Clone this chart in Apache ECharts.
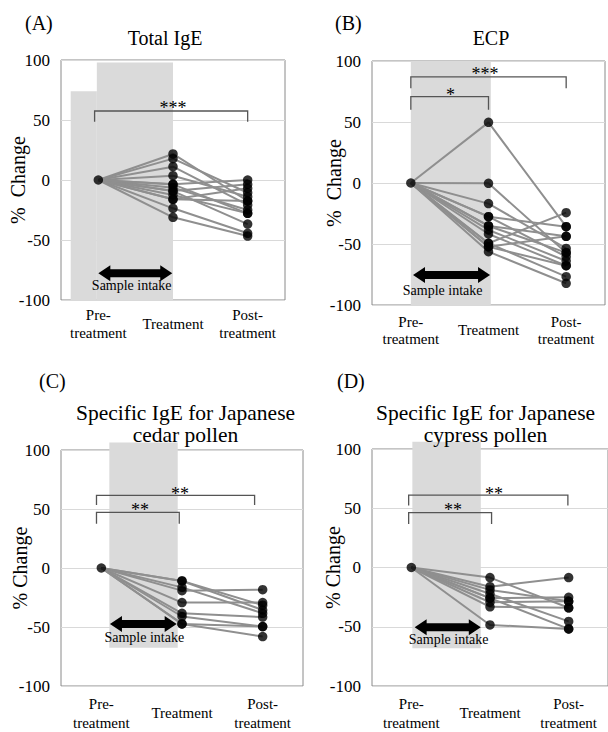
<!DOCTYPE html>
<html><head><meta charset="utf-8">
<script src="https://cdn.jsdelivr.net/npm/echarts@6/dist/echarts.min.js"></script>
<style>html,body{margin:0;padding:0;background:#fff}#c{width:608px;height:732px}</style>
</head><body><div id="c"></div>
<script>
// ---------- data ----------
const categories = ['Pre-\ntreatment', 'Treatment', 'Post-\ntreatment'];
const yTicks = [-100, -50, 0, 50, 100];
const preValue = 0;

// (A) Total IgE, % change per subject
const totalIgETreatment = [21.7, 17.8, 11.1, 3.6, -3.6, -6.4, -9.2, -12.5, -16.1, -23.6, -31.1, -9.2, -16.1, -3.6];
const totalIgEPost      = [-17.5, -10.6, -20.8, -13.9, 0, -25, -3.6, -27.8, -6.9, -44.4, -46.7, -36.7, -17.5, -27.8];

// (B) ECP
const ecpTreatment = [49.7, -0.3, -16.9, -27.6, -35.2, -38.5, -41.8, -49.4, -52.2, -56.3, -49.4, -52.2, -35.2, -27.6];
const ecpPost      = [-35.8, -57.1, -53.6, -60.4, -43.7, -63.9, -67.8, -24.3, -43.7, -82.2, -76.8, -67.8, -57.1, -35.8];

// (C) Specific IgE, Japanese cedar pollen
const cedarTreatment = [-11, -11, -16.4, -19.2, -29.3, -38.4, -41.1, -47.4, -47.4];
const cedarPost      = [-31.5, -35.6, -38.4, -18.4, -29.3, -41.6, -49.6, -58.1, -49.6];

// (D) Specific IgE, Japanese cypress pollen
const cypressTreatment = [-8.5, -16.2, -18.9, -22.2, -25.8, -29.3, -33.2, -48.5, -25.8];
const cypressPost      = [-34, -8.5, -28.5, -45.5, -25.2, -28.5, -34, -51.8, -51.8];

// significance labels
const sigA = ['***'];
const sigB = ['***', '*'];
const sigC = ['**', '**'];
const sigD = ['**', '**'];
const intakeLabel = 'Sample intake';
const titles = [['Total IgE'], ['ECP'], ['Specific IgE for Japanese', 'cedar pollen'], ['Specific IgE for Japanese', 'cypress pollen']];
const panelLabels = ['(A)', '(B)', '(C)', '(D)'];

// ---------- layout / annotations ----------
const FONT = '"Liberation Serif", "Times New Roman", serif';
const panels = [
  { treat: totalIgETreatment, post: totalIgEPost, sig: sigA,
    grid: {left: 61, top: 60, width: 224, height: 240}, yName: '%  Change', yNameGap: 33, xMargin: 24, xLH: 18,
    labelPos: [25, 24], titlePos: [165, 38], titleSize: 20,
    bands: [[-0.37, -0.02, 74, -100], [-0.02, 1.0, 98, -100]],
    arrow: [0.0, 0.99, -77.8, 0.447, -88.3],
    brackets: [[-0.05, 2.0, 57.5, 48.6, 1.0, 60]] },
  { treat: ecpTreatment, post: ecpPost, sig: sigB,
    grid: {left: 372, top: 61, width: 233, height: 244}, yName: '%  Change', yNameGap: 28, xMargin: 25, xLH: 17,
    labelPos: [335, 24], titlePos: [491, 38], titleSize: 20,
    bands: [[0.0, 1.03, 100, -100]],
    arrow: [0.028, 1.02, -75.4, 0.41, -88.5],
    brackets: [[0.0, 2.0, 87, 77.6, 0.955, 89], [0.0, 1.0, 70.8, 60, 0.51, 72]] },
  { treat: cedarTreatment, post: cedarPost, sig: sigC,
    grid: {left: 61, top: 450, width: 242, height: 243}, yName: '% Change', yNameGap: 31, xMargin: 27, xLH: 19,
    labelPos: [39, 382], titlePos: [185.5, 424], titleSize: 21.5,
    bands: [[0.099, 0.947, 106.4, -67.6]],
    arrow: [0.107, 0.934, -47.4, 0.533, -58.9],
    brackets: [[-0.06, 1.9, 61.6, 53.4, 0.975, 63], [-0.06, 0.966, 47.1, 37.5, 0.48, 49.5]] },
  { treat: cypressTreatment, post: cypressPost, sig: sigD,
    grid: {left: 372, top: 449, width: 238, height: 243}, yName: '% Change', yNameGap: 29, xMargin: 27, xLH: 19,
    labelPos: [337, 382], titlePos: [485.5, 424], titleSize: 21.5,
    bands: [[0.013, 0.883, 106.2, -68.2]],
    arrow: [0.042, 0.883, -50.4, 0.474, -60.6],
    brackets: [[-0.034, 1.99, 61, 52.3, 1.05, 62], [-0.034, 1.02, 46.3, 36.7, 0.53, 48.5]] }
];

const grids = [], xAxes = [], yAxes = [], series = [], graphics = [];

panels.forEach((p, k) => {
  grids.push(Object.assign({show: true, borderColor: '#8a8a8a', borderWidth: 1, backgroundColor: 'transparent'}, p.grid));
  xAxes.push({
    type: 'category', gridIndex: k, data: categories, boundaryGap: true,
    axisLine: {show: false}, axisTick: {show: false}, splitLine: {show: false},
    axisLabel: {fontFamily: FONT, fontSize: 15, color: '#000', margin: p.xMargin, lineHeight: p.xLH, verticalAlign: 'middle', interval: 0}
  });
  xAxes.push({type: 'value', gridIndex: k, min: -0.5, max: 2.5, show: false});
  yAxes.push({
    type: 'value', gridIndex: k, min: yTicks[0], max: yTicks[yTicks.length - 1], interval: yTicks[1] - yTicks[0],
    axisLine: {show: false}, axisTick: {show: false},
    splitLine: {show: true, lineStyle: {color: '#d9d9d9', width: 1}},
    axisLabel: {fontFamily: FONT, fontSize: 17, color: '#000', margin: 11},
    name: p.yName, nameLocation: 'middle', nameGap: p.yNameGap, nameRotate: 90, nameMoveOverlap: false,
    nameTextStyle: {fontFamily: FONT, fontSize: 20, color: '#000'}
  });
  const xv = k * 2 + 1, xc = k * 2;
  // shaded sample-intake band
  series.push({
    type: 'custom', xAxisIndex: xv, yAxisIndex: k, z: 1, silent: true, clip: false,
    data: p.bands, encode: {x: [0, 1], y: [2, 3]},
    renderItem: (params, api) => {
      const a = api.coord([api.value(0), api.value(2)]);
      const b = api.coord([api.value(1), api.value(3)]);
      return {type: 'rect', shape: {x: a[0], y: a[1], width: b[0] - a[0], height: b[1] - a[1]}, style: {fill: '#dadada'}};
    }
  });
  // subject lines
  p.treat.forEach((t, i) => {
    series.push({
      type: 'line', xAxisIndex: xc, yAxisIndex: k, z: 3, silent: true,
      data: [preValue, t, p.post[i]], showSymbol: false, symbol: 'none',
      lineStyle: {color: '#8f8f8f', width: 2}
    });
  });
  // dots
  const pts = [[0, preValue]];
  p.treat.forEach(t => pts.push([1, t]));
  p.post.forEach(v => pts.push([2, v]));
  series.push({
    type: 'scatter', xAxisIndex: xc, yAxisIndex: k, z: 4, silent: true,
    data: pts, symbol: 'circle', symbolSize: 9.5, itemStyle: {color: '#000'}
  });
  // arrow + label
  series.push({
    type: 'custom', xAxisIndex: xv, yAxisIndex: k, z: 5, silent: true, clip: false,
    data: [p.arrow], encode: {x: [0, 1, 3], y: [2, 4]},
    renderItem: (params, api) => {
      const a = api.coord([api.value(0), api.value(2)]);
      const b = api.coord([api.value(1), api.value(2)]);
      const t = api.coord([api.value(3), api.value(4)]);
      const y = a[1], hl = 12, hh = 8, sh = 4;
      const poly = [[a[0], y], [a[0] + hl, y - hh], [a[0] + hl, y - sh], [b[0] - hl, y - sh], [b[0] - hl, y - hh],
        [b[0], y], [b[0] - hl, y + hh], [b[0] - hl, y + sh], [a[0] + hl, y + sh], [a[0] + hl, y + hh]];
      return {type: 'group', children: [
        {type: 'polygon', shape: {points: poly}, style: {fill: '#000'}},
        {type: 'text', style: {text: intakeLabel, x: t[0], y: t[1], align: 'center', verticalAlign: 'middle', fontSize: 14, fontFamily: FONT, fill: '#000'}}
      ]};
    }
  });
  // significance brackets
  series.push({
    type: 'custom', xAxisIndex: xv, yAxisIndex: k, z: 5, silent: true, clip: false,
    data: p.brackets, encode: {x: [0, 1, 4], y: [2, 3, 5]},
    renderItem: (params, api) => {
      const x0 = api.value(0), x1 = api.value(1), yl = api.value(2), yt = api.value(3);
      const pl = [api.coord([x0, yt]), api.coord([x0, yl]), api.coord([x1, yl]), api.coord([x1, yt])];
      const s = api.coord([api.value(4), api.value(5)]);
      return {type: 'group', children: [
        {type: 'polyline', shape: {points: pl}, style: {stroke: '#555', lineWidth: 1.3, fill: null}},
        {type: 'text', style: {text: p.sig[params.dataIndex], x: s[0], y: s[1], align: 'center', verticalAlign: 'middle', fontSize: 18, fontFamily: FONT, fill: '#000'}}
      ]};
    }
  });
  graphics.push({type: 'text', z: 100, left: p.labelPos[0], top: p.labelPos[1] - 11,
    style: {text: panelLabels[k], fontSize: 20, fontFamily: FONT, fill: '#000'}});
  graphics.push({type: 'text', z: 100, x: p.titlePos[0], y: p.titlePos[1],
    style: {text: titles[k].join('\n'), fontSize: p.titleSize, lineHeight: 22.5, fontFamily: FONT, fill: '#000', align: 'center', verticalAlign: 'middle'}});
});

const chart = echarts.init(document.getElementById('c'), null, {renderer: 'svg'});
chart.setOption({
  animation: false,
  backgroundColor: '#fff',
  grid: grids, xAxis: xAxes, yAxis: yAxes, series: series, graphic: graphics
});
</script>
</body></html>
